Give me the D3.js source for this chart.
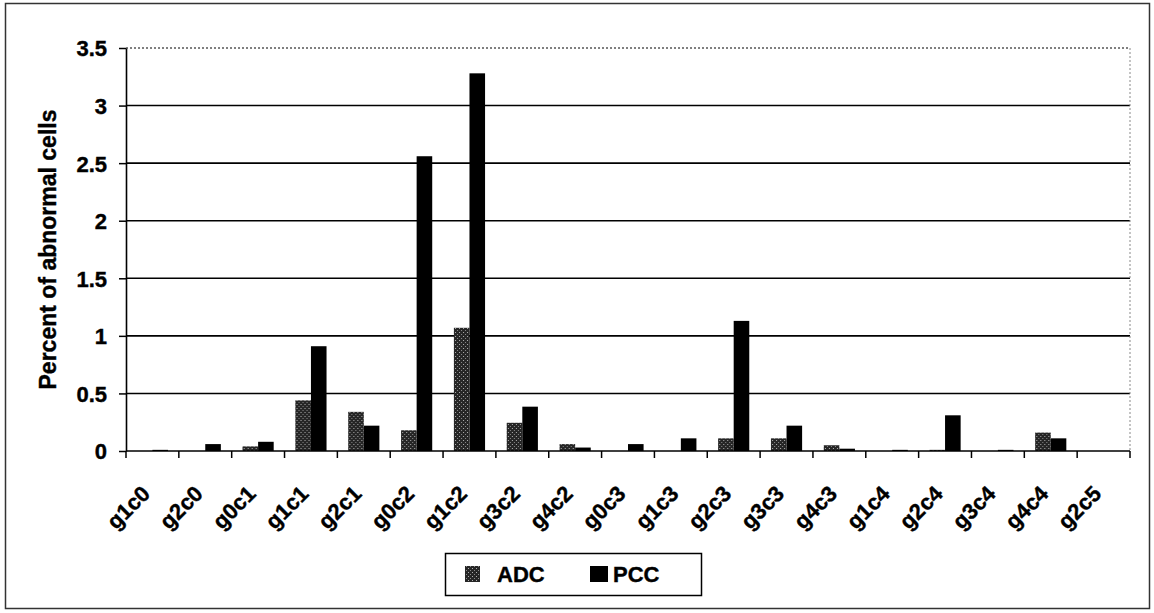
<!DOCTYPE html>
<html>
<head>
<meta charset="utf-8">
<script src="https://cdn.jsdelivr.net/npm/d3@7"></script>
<style>
  body { margin: 0; background: #fff; }
  text { font-family: "Liberation Sans", Arial, sans-serif; font-weight: bold; fill: #000;
    stroke: #000; stroke-width: 0.4px; }
</style>
</head>
<body>
<svg id="chart" width="1154" height="613"></svg>
<script>
const categories = ['g1c0','g2c0','g0c1','g1c1','g2c1','g0c2','g1c2','g3c2','g4c2','g0c3',
  'g1c3','g2c3','g3c3','g4c3','g1c4','g2c4','g3c4','g4c4','g2c5']
const series = ['ADC', 'PCC']
const adcValues = [0, 0, 0.04, 0.44, 0.34, 0.18, 1.07, 0.245, 0.06, 0,
  0, 0.11, 0.11, 0.05, 0, 0.01, 0, 0.16, 0]
const pccValues = [0.01, 0.06, 0.08, 0.91, 0.22, 2.56, 3.28, 0.385, 0.03, 0.06,
  0.11, 1.13, 0.22, 0.02, 0.01, 0.31, 0.01, 0.11, 0]
const yTicks = [0, 0.5, 1, 1.5, 2, 2.5, 3, 3.5]

const svg = d3.select('#chart')

// outer frame
svg.append('rect')
  .attr('x', 5.5).attr('y', 3.5).attr('width', 1144).attr('height', 605)
  .attr('fill', 'none').attr('stroke', '#333').attr('stroke-width', 1.5)

// speckled fill used for ADC
let pat = svg.append('defs').append('pattern')
  .attr('id', 'adc').attr('patternUnits', 'userSpaceOnUse')
  .attr('width', 4).attr('height', 4)
pat.append('rect').attr('width', 4).attr('height', 4).attr('fill', '#262626')
pat.append('rect').attr('x', 0).attr('y', 0).attr('width', 1).attr('height', 1).attr('fill', '#b0b0b0')
pat.append('rect').attr('x', 2).attr('y', 2).attr('width', 1).attr('height', 1).attr('fill', '#8a8a8a')

const plot = { left: 126, right: 1130, top: 48, bottom: 451 }

const x0 = d3.scaleBand().domain(categories).range([plot.left, plot.right])
const x1 = d3.scaleBand().domain(series)
  .range([x0.bandwidth() * 0.205, x0.bandwidth() * 0.795])
const y = d3.scaleLinear().domain([0, 3.5]).range([plot.bottom, plot.top])

// gridlines
svg.append('g').selectAll('line').data(yTicks.filter(d => d > 0)).enter().append('line')
  .attr('x1', plot.left).attr('x2', plot.right)
  .attr('y1', d => y(d)).attr('y2', d => y(d))
  .attr('stroke', '#000')
  .attr('stroke-width', d => d === 3.5 ? 1 : 1.6)
  .attr('stroke-dasharray', d => d === 3.5 ? '2,2' : null)

// right border of plot area
svg.append('line')
  .attr('x1', plot.right).attr('x2', plot.right)
  .attr('y1', plot.top).attr('y2', plot.bottom)
  .attr('stroke', '#888').attr('stroke-dasharray', '2,2')

// bars
const rows = categories.map((c, i) => ({ cat: c, values: [adcValues[i], pccValues[i]] }))
let groups = svg.append('g').selectAll('g').data(rows).enter().append('g')
  .attr('transform', d => `translate(${ x0(d.cat) },0)`)
groups.selectAll('rect').data(d => d.values.map((v, j) => ({ key: series[j], value: v })))
  .enter().append('rect')
  .attr('x', d => x1(d.key))
  .attr('width', x1.bandwidth())
  .attr('y', d => y(d.value))
  .attr('height', d => y(0) - y(d.value))
  .attr('fill', d => d.key === 'ADC' ? 'url(#adc)' : '#000')

// y axis
let yAxis = svg.append('g').attr('transform', `translate(${ plot.left },0)`)
  .call(d3.axisLeft(y).tickValues(yTicks).tickFormat(d3.format('')).tickSize(7).tickSizeOuter(0))
yAxis.select('.domain').attr('stroke', '#000').attr('stroke-width', 1.6)
yAxis.selectAll('.tick line').attr('stroke', '#000').attr('stroke-width', 1.5)
yAxis.selectAll('.tick text').attr('x', -19).attr('dy', '0.36em').style('font-size', '22px')
  .style('font-family', '"Liberation Sans", Arial, sans-serif').style('font-weight', 'bold')

// x axis baseline and ticks at category boundaries
svg.append('line')
  .attr('x1', plot.left).attr('x2', plot.right)
  .attr('y1', y(0)).attr('y2', y(0))
  .attr('stroke', '#000').attr('stroke-width', 1.6)
let bounds = categories.map(c => x0(c)).concat([plot.right])
svg.append('g').selectAll('line').data(bounds).enter().append('line')
  .attr('x1', d => d).attr('x2', d => d)
  .attr('y1', y(0)).attr('y2', y(0) + 7)
  .attr('stroke', '#000').attr('stroke-width', 1.5)

// x labels, rotated
svg.append('g').selectAll('text').data(categories).enter().append('text')
  .attr('transform', d => `translate(${ x0(d) + x0.bandwidth() / 2 - 1 },${ y(0) + 44 }) rotate(-45)`)
  .attr('text-anchor', 'end')
  .style('font-size', '22px')
  .text(d => d)

// y axis title
svg.append('text')
  .attr('transform', `translate(56,${ (plot.top + plot.bottom) / 2 }) rotate(-90)`)
  .attr('text-anchor', 'middle')
  .style('font-size', '23px')
  .text('Percent of abnormal cells')

// legend
const legendPos = [{ sx: 465, sw: 15, tx: 497 }, { sx: 590, sw: 18, tx: 613 }]
let legend = svg.append('g')
legend.append('rect')
  .attr('x', 445.5).attr('y', 553.5).attr('width', 256).attr('height', 42)
  .attr('fill', '#fff').attr('stroke', '#000').attr('stroke-width', 1.5)
let items = legend.selectAll('g.item').data(series).enter().append('g')
  .attr('class', 'item')
items.append('rect')
  .attr('x', (d, i) => legendPos[i].sx).attr('y', 566)
  .attr('width', (d, i) => legendPos[i].sw).attr('height', 16)
  .attr('fill', d => d === 'ADC' ? 'url(#adc)' : '#000')
items.append('text')
  .attr('x', (d, i) => legendPos[i].tx).attr('y', 582)
  .style('font-size', '22px')
  .text(d => d)
</script>
</body>
</html>
